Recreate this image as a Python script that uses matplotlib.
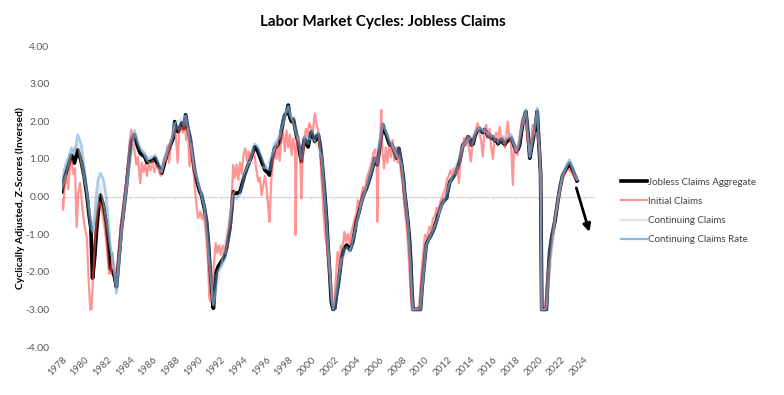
import matplotlib
matplotlib.use("Agg")
import matplotlib.pyplot as plt

plt.rcParams['font.family'] = ['Lato', 'DejaVu Sans']

# data (decimal years, z-scores)
dates = [
    1978.0, 1978.2, 1978.4, 1978.6, 1978.85,
    1979.1, 1979.4, 1979.7, 1979.95,
    1980.2, 1980.4, 1980.55, 1980.7, 1980.9,
    1981.05, 1981.2, 1981.4, 1981.65, 1981.9,
    1982.1, 1982.25, 1982.5, 1982.65, 1982.8, 1982.95,
    1983.25, 1983.5, 1983.7, 1983.9,
    1984.1, 1984.4, 1984.65, 1984.9,
    1985.1, 1985.3, 1985.5, 1985.75,
    1986.0, 1986.2, 1986.5, 1986.8,
    1987.1, 1987.35, 1987.6, 1987.8, 1987.95,
    1988.1, 1988.25, 1988.55, 1988.75, 1988.9,
    1989.1, 1989.3, 1989.5, 1989.7, 1989.9,
    1990.15, 1990.3, 1990.55, 1990.75, 1990.9,
    1991.05, 1991.2, 1991.35, 1991.5, 1991.6, 1991.8,
    1992.05, 1992.3, 1992.5, 1992.8, 1992.95,
    1993.1, 1993.4, 1993.7, 1993.9,
    1994.1, 1994.3, 1994.55, 1994.8,
    1995.0, 1995.2, 1995.45, 1995.7, 1995.9,
    1996.1, 1996.3, 1996.5, 1996.75,
    1997.0, 1997.2, 1997.35, 1997.5, 1997.65, 1997.8, 1997.95,
    1998.1, 1998.25, 1998.4, 1998.55, 1998.8, 1998.95,
    1999.1, 1999.25, 1999.4, 1999.55, 1999.7, 1999.85,
    2000.0, 2000.15, 2000.3, 2000.45, 2000.6, 2000.75, 2000.9,
    2001.05, 2001.2, 2001.35, 2001.45, 2001.6, 2001.75, 2001.9,
    2002.05, 2002.2, 2002.35, 2002.5, 2002.65, 2002.85,
    2003.1, 2003.25, 2003.4, 2003.65, 2003.8, 2003.95,
    2004.2, 2004.4, 2004.6, 2004.85,
    2005.1, 2005.3, 2005.45, 2005.6, 2005.8,
    2006.0, 2006.15, 2006.3, 2006.45, 2006.6, 2006.75, 2006.9,
    2007.05, 2007.2, 2007.35, 2007.5, 2007.7, 2007.95,
    2008.1, 2008.2, 2008.35, 2008.5, 2008.65, 2008.75, 2008.85, 2008.95,
    2009.3, 2009.6, 2009.75, 2009.9,
    2010.1, 2010.3, 2010.55, 2010.8,
    2011.0, 2011.2, 2011.45, 2011.7, 2011.9,
    2012.05, 2012.2, 2012.4, 2012.6, 2012.85,
    2013.05, 2013.2, 2013.35, 2013.6, 2013.8, 2013.95,
    2014.1, 2014.25, 2014.4, 2014.55, 2014.8,
    2015.1, 2015.25, 2015.4, 2015.55, 2015.7, 2015.85,
    2016.0, 2016.15, 2016.3, 2016.45, 2016.6, 2016.75, 2016.9,
    2017.05, 2017.2, 2017.4, 2017.6, 2017.8,
    2018.05, 2018.2, 2018.35, 2018.5, 2018.65, 2018.9,
    2019.05, 2019.25, 2019.4, 2019.55, 2019.75, 2019.9,
    2020.0, 2020.1, 2020.2, 2020.3, 2020.5, 2020.7, 2020.85,
    2021.0, 2021.2, 2021.45, 2021.6, 2021.75, 2021.95,
    2022.15, 2022.4, 2022.6, 2022.75, 2022.95,
    2023.2, 2023.4,
]

aggregate = [
    0.13, 0.45, 0.66, 0.85, 1.10,
    0.89, 1.24, 0.93, 0.55,
    0.04, -0.50, -0.84, -2.17, -1.56,
    -0.90, -0.40, 0.04, -0.23, -0.70,
    -1.29, -1.90, -2.00, -2.15, -2.40, -1.90,
    -0.84, -0.20, 0.31, 0.90,
    1.46, 1.64, 1.35, 1.15,
    1.10, 1.06, 0.90, 0.93,
    0.95, 1.02, 0.80, 0.62,
    0.95, 1.19, 1.40, 1.55, 1.99,
    1.75, 1.72, 1.95, 1.80, 2.17,
    1.80, 1.55, 1.10, 0.66, 0.40,
    0.13, 0.04, -0.30, -0.67, -1.20,
    -1.90, -2.50, -2.97, -2.40, -2.00, -1.85,
    -1.73, -1.60, -1.38, -0.85, -0.40,
    0.13, 0.08, 0.13, 0.35,
    0.57, 0.75, 0.93, 1.15,
    1.32, 1.25, 1.06, 0.85, 0.70,
    0.65, 0.57, 0.95, 1.28,
    1.35, 1.46, 1.75, 1.99, 2.17, 2.20, 2.43,
    2.10, 1.99, 2.05, 1.81, 1.46, 1.20,
    0.93, 1.30, 1.55, 1.40, 1.32, 1.55,
    1.72, 1.55, 1.46, 1.60, 1.64, 1.40, 1.02,
    0.50, -0.05, -0.70, -1.29, -2.00, -2.80, -3.00,
    -2.97, -2.62, -2.35, -2.00, -1.64, -1.40,
    -1.29, -1.35, -1.42, -1.20, -0.95, -0.67,
    -0.40, -0.14, 0.05, 0.22,
    0.45, 0.66, 0.85, 1.02, 0.84,
    1.28, 1.60, 1.90, 1.75, 1.64, 1.50, 1.37,
    1.40, 1.28, 1.15, 1.02, 1.28, 0.84,
    0.50, 0.13, -0.25, -0.67, -1.20, -1.73, -2.50, -3.00,
    -3.00, -3.00, -2.40, -1.91,
    -1.29, -1.15, -1.02, -0.85,
    -0.67, -0.45, -0.23, -0.10, -0.05,
    0.20, 0.39, 0.48, 0.57, 0.75,
    0.93, 1.15, 1.37, 1.45, 1.59, 1.55,
    1.37, 1.40, 1.60, 1.72, 1.81,
    1.70, 1.78, 1.72, 1.60, 1.65, 1.55,
    1.59, 1.48, 1.50, 1.40, 1.46, 1.52, 1.42,
    1.38, 1.46, 1.50, 1.55, 1.40,
    1.19, 1.25, 1.37, 1.70, 1.99, 2.26,
    1.80, 1.02, 1.30, 1.55, 1.90, 2.26,
    1.70, 1.19, 0.60, -3.00, -3.00, -3.00, -2.20,
    -1.47, -1.05, -0.67, -0.35, -0.05, 0.30,
    0.57, 0.70, 0.80, 0.88, 0.75,
    0.57, 0.42,
]

claims_rate = [
    0.30, 0.70, 0.90, 1.05, 1.30,
    1.15, 1.64, 1.37, 0.80,
    0.15, -0.45, -0.84, -0.95, -0.50,
    0.10, 0.45, 0.62, 0.45, 0.00,
    -0.70, -1.30, -1.70, -1.95, -2.57, -2.10,
    -0.95, -0.25, 0.30, 0.95,
    1.55, 1.75, 1.45, 1.25,
    1.20, 1.15, 1.00, 1.02,
    1.05, 1.10, 0.90, 0.70,
    1.05, 1.25, 1.45, 1.60, 1.95,
    1.80, 1.80, 2.00, 1.90, 2.15,
    1.90, 1.65, 1.25, 0.80, 0.50,
    0.20, 0.10, -0.25, -0.60, -1.10,
    -1.80, -2.40, -2.85, -2.50, -2.10, -1.95,
    -1.85, -1.70, -1.45, -0.95, -0.50,
    0.00, -0.05, 0.05, 0.30,
    0.55, 0.75, 0.95, 1.20,
    1.40, 1.35, 1.15, 0.95, 0.80,
    0.75, 0.70, 1.05, 1.40,
    1.50, 1.60, 1.85, 2.05, 2.20, 2.25, 2.40,
    2.15, 2.05, 2.10, 1.85, 1.55, 1.30,
    1.00, 1.35, 1.60, 1.45, 1.40, 1.60,
    1.75, 1.60, 1.50, 1.65, 1.70, 1.45, 1.10,
    0.55, 0.00, -0.65, -1.25, -1.95, -2.75, -3.00,
    -3.00, -2.70, -2.40, -2.05, -1.70, -1.45,
    -1.35, -1.40, -1.45, -1.25, -1.00, -0.72,
    -0.45, -0.18, 0.02, 0.20,
    0.42, 0.65, 0.85, 1.02, 0.88,
    1.30, 1.62, 1.95, 1.80, 1.68, 1.55, 1.40,
    1.42, 1.30, 1.18, 1.05, 1.30, 0.88,
    0.52, 0.15, -0.22, -0.65, -1.18, -1.70, -2.45, -3.00,
    -3.00, -3.00, -2.45, -1.95,
    -1.32, -1.18, -1.05, -0.88,
    -0.70, -0.48, -0.25, -0.12, -0.08,
    0.18, 0.37, 0.46, 0.55, 0.73,
    0.92, 1.14, 1.36, 1.46, 1.60, 1.56,
    1.38, 1.42, 1.62, 1.74, 1.83,
    1.72, 1.80, 1.74, 1.62, 1.67, 1.57,
    1.60, 1.50, 1.52, 1.42, 1.48, 1.54, 1.44,
    1.40, 1.50, 1.58, 1.65, 1.42,
    1.20, 1.28, 1.40, 1.75, 2.05, 2.30,
    1.85, 1.05, 1.35, 1.60, 1.95, 2.35,
    1.75, 1.22, 0.62, -3.00, -3.00, -3.00, -2.15,
    -1.42, -1.00, -0.62, -0.30, 0.00, 0.35,
    0.62, 0.78, 0.90, 0.98, 0.82,
    0.62, 0.45,
]

cont_dates = [1978.0, 1978.85, 1979.4, 1980.2, 1980.7, 1981.4, 1982.1, 1982.8,
              1983.5, 1984.4, 1985.5, 1986.8, 1987.95, 1988.9, 1989.7, 1990.55,
              1991.35, 1992.05, 1993.1, 1994.55, 1995.9, 1997.0, 1997.95, 1998.8,
              1999.4, 2000.3, 2000.9, 2001.45, 2001.9, 2002.65, 2003.4, 2004.4,
              2005.6, 2006.3, 2007.2, 2007.95, 2008.5, 2008.95, 2009.6, 2010.1,
              2011.0, 2012.2, 2013.35, 2014.8, 2016.0, 2017.6, 2018.05, 2018.9,
              2019.25, 2019.9, 2020.2, 2020.3, 2020.7, 2021.45, 2022.15, 2022.75,
              2023.4]
cont_claims = [0.20, 1.15, 1.40, 0.10, -0.90, 0.30, -1.00, -2.45,
               -0.25, 1.68, 0.95, 0.65, 1.95, 2.15, 0.72, -0.28,
               -2.90, -1.80, 0.05, 0.93, 0.75, 1.42, 2.40, 1.50,
               1.58, 1.48, 1.05, -1.27, -3.00, -1.67, -1.44, -0.16,
               1.02, 1.92, 1.29, 0.86, -0.66, -3.00, -3.00, -1.30,
               -0.68, 0.38, 1.36, 1.82, 1.60, 1.60, 1.20, 2.28,
               1.04, 2.30, 0.61, -3.00, -3.00, -0.64, 0.60, 0.93,
               0.44]

init_dates = [
    1978.0, 1978.1, 1978.25, 1978.4, 1978.55, 1978.7, 1978.85,
    1979.0, 1979.15, 1979.3, 1979.45, 1979.6, 1979.8,
    1980.0, 1980.2, 1980.35, 1980.5, 1980.6, 1980.7, 1980.85,
    1981.0, 1981.15, 1981.3, 1981.45, 1981.6, 1981.8,
    1982.0, 1982.15, 1982.3, 1982.45, 1982.55, 1982.7, 1982.85,
    1983.0, 1983.2, 1983.4, 1983.6, 1983.8,
    1984.0, 1984.1, 1984.25, 1984.4, 1984.55, 1984.7, 1984.9,
    1985.05, 1985.2, 1985.35, 1985.5, 1985.65, 1985.8,
    1986.0, 1986.15, 1986.3, 1986.5, 1986.7, 1986.85,
    1987.0, 1987.15, 1987.3, 1987.45, 1987.6, 1987.75, 1987.9,
    1988.05, 1988.2, 1988.35, 1988.5, 1988.65, 1988.8, 1988.95,
    1989.1, 1989.25, 1989.4, 1989.55, 1989.7, 1989.85,
    1990.0, 1990.2, 1990.35, 1990.5, 1990.7, 1990.85,
    1991.0, 1991.1, 1991.25, 1991.4, 1991.55, 1991.7, 1991.85,
    1992.0, 1992.2, 1992.4, 1992.6, 1992.8, 1992.95,
    1993.1, 1993.25, 1993.4, 1993.55, 1993.7, 1993.85,
    1994.0, 1994.15, 1994.3, 1994.45, 1994.6, 1994.8,
    1995.0, 1995.15, 1995.3, 1995.45, 1995.6, 1995.75, 1995.9,
    1996.05, 1996.2, 1996.3, 1996.45, 1996.6, 1996.75, 1996.9,
    1997.05, 1997.2, 1997.35, 1997.5, 1997.65, 1997.8, 1997.95,
    1998.1, 1998.25, 1998.4, 1998.55, 1998.6, 1998.7, 1998.85,
    1999.0, 1999.1, 1999.2, 1999.35, 1999.5, 1999.65, 1999.8, 1999.95,
    2000.1, 2000.3, 2000.45, 2000.6, 2000.75, 2000.9,
    2001.05, 2001.2, 2001.35, 2001.5, 2001.65, 2001.8, 2001.95,
    2002.1, 2002.3, 2002.45, 2002.6, 2002.75, 2002.9,
    2003.05, 2003.2, 2003.35, 2003.5, 2003.65, 2003.8, 2003.95,
    2004.1, 2004.25, 2004.4, 2004.55, 2004.7, 2004.85,
    2005.0, 2005.15, 2005.3, 2005.45, 2005.6, 2005.75, 2005.8, 2005.9,
    2006.05, 2006.15, 2006.25, 2006.4, 2006.55, 2006.7, 2006.85,
    2007.0, 2007.15, 2007.3, 2007.45, 2007.6, 2007.75, 2007.9,
    2008.05, 2008.2, 2008.4, 2008.55, 2008.7, 2008.85,
    2009.2, 2009.5, 2009.7, 2009.85,
    2010.0, 2010.2, 2010.4, 2010.55, 2010.7, 2010.9,
    2011.05, 2011.2, 2011.35, 2011.5, 2011.65, 2011.8, 2011.95,
    2012.1, 2012.25, 2012.4, 2012.55, 2012.7, 2012.85,
    2013.0, 2013.15, 2013.3, 2013.45, 2013.6, 2013.75, 2013.9,
    2014.05, 2014.2, 2014.35, 2014.5, 2014.65, 2014.8, 2014.95,
    2015.1, 2015.25, 2015.4, 2015.55, 2015.7, 2015.85,
    2016.0, 2016.15, 2016.3, 2016.45, 2016.6, 2016.75, 2016.9,
    2017.05, 2017.2, 2017.3, 2017.45, 2017.6, 2017.75, 2017.85,
    2018.0, 2018.15, 2018.3, 2018.45, 2018.6, 2018.75, 2018.9,
    2019.05, 2019.2, 2019.35, 2019.5, 2019.65, 2019.8, 2019.95,
    2020.1, 2020.2, 2020.25, 2020.6, 2020.75, 2020.9,
    2021.1, 2021.3, 2021.5, 2021.7, 2021.9,
    2022.1, 2022.3, 2022.5, 2022.7, 2022.9,
    2023.1, 2023.3, 2023.4,
]

initial_claims = [
    -0.10, -0.35, 0.30, 0.55, 0.20, 0.80, 0.95,
    0.60, 0.75, -0.81, 0.10, 0.36, -0.30,
    -0.80, -1.10, -2.20, -3.00, -3.00, -2.40, -1.50,
    -0.80, -0.35, -0.15, -0.25, -0.50, -0.90,
    -1.50, -2.05, -2.05, -1.50, -1.95, -2.10, -2.10,
    -1.50, -0.70, -0.30, 0.20, 0.80,
    1.55, 1.77, 1.50, 1.20, 0.85, 1.05, 0.36,
    0.90, 0.65, 0.85, 0.55, 0.85, 0.70,
    0.95, 0.65, 0.85, 0.75, 0.55, 0.80,
    1.00, 0.95, 1.35, 0.90, 1.40, 1.55, 1.85,
    1.60, 0.90, 1.75, 1.85, 1.70, 2.05, 1.50,
    1.80, 0.80, 1.40, 0.90, 0.30, -0.20,
    -0.57, -0.40, -0.60, -0.45, -1.00, -1.60,
    -2.70, -2.80, -2.50, -1.80, -1.24, -1.50, -1.30,
    -1.55, -1.30, -1.50, -1.00, -0.70, -0.20,
    0.84, 0.50, 0.85, 0.45, 0.90, 0.60,
    1.10, 1.28, 0.95, 1.20, 0.90, 1.25,
    1.05, 0.70, 0.40, 0.50, 0.04, 0.30, 0.55,
    0.20, -0.30, -0.67, 0.40, 0.90, 1.28, 1.00,
    1.40, 0.95, 1.60, 1.70, 1.20, 1.75, 1.30,
    1.65, 1.10, 1.55, 1.20, -1.02, 1.40, 1.60,
    1.20, -0.05, 0.90, 1.40, 1.80, 1.60, 1.95, 1.85,
    1.70, 2.21, 1.90, 1.75, 1.20, 0.40,
    -0.40, -1.00, -1.30, -1.73, -2.30, -2.80, -2.90,
    -2.40, -1.47, -1.90, -1.30, -1.40, -0.94,
    -1.20, -1.00, -1.25, -0.95, -0.80, -0.60, -0.45,
    -0.10, -0.30, 0.05, 0.25, 0.10, 0.45,
    0.60, 0.75, 0.90, 1.15, 1.25, 1.00, -0.67, 0.90,
    1.40, 2.30, 1.20, 0.75, 1.30, 0.90, 1.35,
    1.05, 1.50, 0.95, 1.30, 0.90, 1.10, 0.60,
    0.30, -0.30, -0.80, -1.50, -2.30, -3.00,
    -3.00, -2.90, -2.00, -1.50,
    -1.02, -1.10, -0.80, -0.90, -0.60, -0.50,
    -0.30, -0.45, -0.15, -0.05, 0.10, 0.20, 0.45,
    0.55, 0.70, 0.55, 0.75, 0.60, 0.80,
    0.36, 1.00, 1.20, 1.55, 1.35, 1.60, 1.25,
    0.93, 1.40, 1.55, 1.80, 1.95, 1.70, 1.50,
    1.06, 1.75, 1.90, 1.55, 1.80, 1.30,
    1.00, 1.55, 1.70, 1.45, 1.85, 1.50, 1.60,
    1.30, 1.70, 1.99, 1.55, 1.40, 0.31, 1.20,
    1.35, 1.10, 1.50, 1.80, 2.10, 2.00, 1.90,
    1.50, 1.20, 1.45, 1.90, 1.65, 1.70, 1.50,
    1.30, 0.40, -3.00, -3.00, -2.30, -1.90,
    -1.56, -1.00, -0.55, -0.10, 0.20,
    0.45, 0.60, 0.70, 0.72, 0.65,
    0.55, 0.50, 0.45,
]

year_ticks = list(range(1978, 2025, 2))
y_ticks = [4, 3, 2, 1, 0, -1, -2, -3, -4]
arrow_from = (2023.35, 0.23)
arrow_to = (2024.5, -0.94)

fig = plt.figure(figsize=(7.84, 3.95), dpi=100)
ax = fig.add_axes([0.079, 0.1215, 0.68, 0.762])

ax.axhline(0, color='#D9D9D9', lw=0.9, zorder=0)
ax.vlines(year_ticks, -0.07, 0, color='#D9D9D9', lw=0.9, zorder=0)

l1, = ax.plot(dates, aggregate, color='black', lw=2.7, zorder=2,
              label='Jobless Claims Aggregate')
l2, = ax.plot(init_dates, initial_claims, color='#FF4D4D', alpha=0.6, lw=1.6,
              zorder=3, label='Initial Claims')
l3, = ax.plot(cont_dates, cont_claims, color='#D0D0D0', alpha=0.5, lw=1.6,
              zorder=4, label='Continuing Claims')
l4, = ax.plot(dates, claims_rate, color='#5B9BD5', alpha=0.5, lw=2.0,
              zorder=5, label='Continuing Claims Rate')

ax.annotate('', xy=arrow_to, xytext=arrow_from,
            arrowprops=dict(arrowstyle='-|>', color='black', lw=2,
                            mutation_scale=11, shrinkA=0, shrinkB=0))

ax.set_xlim(1978, 2025)
ax.set_ylim(-4, 4)
ax.set_xticks(year_ticks)
ax.set_xticklabels([str(y) for y in year_ticks], rotation=45, ha='right',
                   rotation_mode='anchor', fontsize=7, color='#595959')
ax.set_yticks(y_ticks)
ax.set_yticklabels(['%.2f' % v for v in y_ticks], fontsize=7.5, color='#595959')
ax.tick_params(axis='both', length=0)
ax.tick_params(axis='y', pad=9)
ax.tick_params(axis='x', pad=6)
for s in ax.spines.values():
    s.set_visible(False)

fig.text(383 / 784, 1 - 22 / 395, 'Labor Market Cycles: Jobless Claims',
         ha='center', va='center', fontsize=11, fontweight='bold')
fig.text(20 / 784, 1 - 198 / 395, 'Cyclically Adjusted, Z-Scores (Inversed)',
         ha='center', va='center', rotation=90, fontsize=7.5, fontweight='bold')

handles = [plt.Line2D([], [], color='black', lw=2.6),
           plt.Line2D([], [], color='#FF9696', lw=1.6),
           plt.Line2D([], [], color='#E3E3E3', lw=1.6),
           plt.Line2D([], [], color='#8DB9E0', lw=1.6)]
fig.legend(handles, [l1.get_label(), l2.get_label(), l3.get_label(), l4.get_label()],
           loc='center left', bbox_to_anchor=(612 / 784, 1 - 211 / 395),
           frameon=False, fontsize=7, handlelength=2.7, handletextpad=0.1,
           labelspacing=1.05, labelcolor='#404040')

fig.savefig('out.png', dpi=100)
